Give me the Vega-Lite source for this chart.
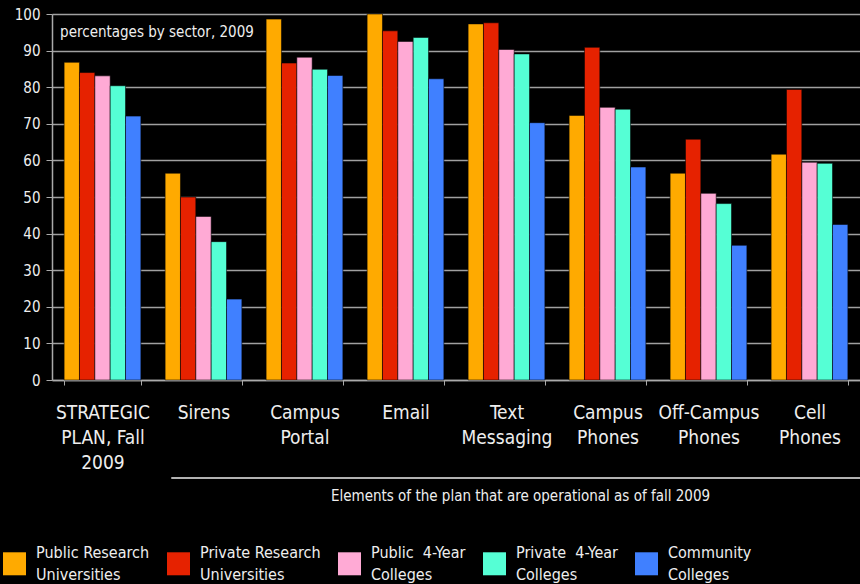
{
  "$schema": "https://vega.github.io/schema/vega-lite/v6.json",
  "width": 808,
  "height": 366,
  "autosize": {"type": "none"},
  "padding": {"left": 52, "top": 14, "right": 0, "bottom": 204},
  "background": "#000000",
  "config": {
    "view": {"stroke": null},
    "font": "DejaVu Sans Condensed, Roboto, sans-serif",
    "axis": {"labelColor": "#eeeeee", "titleColor": "#eeeeee", "titleFontWeight": "normal"},
    "legend": {"labelColor": "#eeeeee"},
    "style": {"guide-label": {"lineHeight": 22}}
  },
  "data": {
    "values": [
      {"element": "STRATEGIC PLAN, Fall 2009", "sector": "Public Research Universities", "pct": 86.8},
      {"element": "STRATEGIC PLAN, Fall 2009", "sector": "Private Research Universities", "pct": 84.0},
      {"element": "STRATEGIC PLAN, Fall 2009", "sector": "Public 4-Year Colleges", "pct": 83.1},
      {"element": "STRATEGIC PLAN, Fall 2009", "sector": "Private 4-Year Colleges", "pct": 80.4},
      {"element": "STRATEGIC PLAN, Fall 2009", "sector": "Community Colleges", "pct": 72.1},
      {"element": "Sirens", "sector": "Public Research Universities", "pct": 56.5},
      {"element": "Sirens", "sector": "Private Research Universities", "pct": 50.0},
      {"element": "Sirens", "sector": "Public 4-Year Colleges", "pct": 44.7},
      {"element": "Sirens", "sector": "Private 4-Year Colleges", "pct": 37.8},
      {"element": "Sirens", "sector": "Community Colleges", "pct": 22.1},
      {"element": "Campus Portal", "sector": "Public Research Universities", "pct": 98.6},
      {"element": "Campus Portal", "sector": "Private Research Universities", "pct": 86.6},
      {"element": "Campus Portal", "sector": "Public 4-Year Colleges", "pct": 88.2},
      {"element": "Campus Portal", "sector": "Private 4-Year Colleges", "pct": 84.9},
      {"element": "Campus Portal", "sector": "Community Colleges", "pct": 83.2},
      {"element": "Email", "sector": "Public Research Universities", "pct": 100.0},
      {"element": "Email", "sector": "Private Research Universities", "pct": 95.4},
      {"element": "Email", "sector": "Public 4-Year Colleges", "pct": 92.5},
      {"element": "Email", "sector": "Private 4-Year Colleges", "pct": 93.6},
      {"element": "Email", "sector": "Community Colleges", "pct": 82.3},
      {"element": "Text Messaging", "sector": "Public Research Universities", "pct": 97.3},
      {"element": "Text Messaging", "sector": "Private Research Universities", "pct": 97.6},
      {"element": "Text Messaging", "sector": "Public 4-Year Colleges", "pct": 90.3},
      {"element": "Text Messaging", "sector": "Private 4-Year Colleges", "pct": 89.1},
      {"element": "Text Messaging", "sector": "Community Colleges", "pct": 70.3},
      {"element": "Campus Phones", "sector": "Public Research Universities", "pct": 72.3},
      {"element": "Campus Phones", "sector": "Private Research Universities", "pct": 90.9},
      {"element": "Campus Phones", "sector": "Public 4-Year Colleges", "pct": 74.5},
      {"element": "Campus Phones", "sector": "Private 4-Year Colleges", "pct": 74.0},
      {"element": "Campus Phones", "sector": "Community Colleges", "pct": 58.2},
      {"element": "Off-Campus Phones", "sector": "Public Research Universities", "pct": 56.5},
      {"element": "Off-Campus Phones", "sector": "Private Research Universities", "pct": 65.8},
      {"element": "Off-Campus Phones", "sector": "Public 4-Year Colleges", "pct": 51.0},
      {"element": "Off-Campus Phones", "sector": "Private 4-Year Colleges", "pct": 48.2},
      {"element": "Off-Campus Phones", "sector": "Community Colleges", "pct": 36.8},
      {"element": "Cell Phones", "sector": "Public Research Universities", "pct": 61.7},
      {"element": "Cell Phones", "sector": "Private Research Universities", "pct": 79.4},
      {"element": "Cell Phones", "sector": "Public 4-Year Colleges", "pct": 59.5},
      {"element": "Cell Phones", "sector": "Private 4-Year Colleges", "pct": 59.2},
      {"element": "Cell Phones", "sector": "Community Colleges", "pct": 42.5}
    ]
  },
  "layer": [
    {
      "mark": {"type": "bar", "stroke": "#000000", "strokeOpacity": 0.55, "strokeWidth": 1},
      "encoding": {
        "x": {
          "field": "element", "type": "nominal", "sort": null,
          "scale": {
            "domain": ["STRATEGIC PLAN, Fall 2009", "Sirens", "Campus Portal", "Email", "Text Messaging", "Campus Phones", "Off-Campus Phones", "Cell Phones"],
            "paddingInner": 0.24, "paddingOuter": 0.12
          },
          "axis": {
            "labelAngle": 0, "labelFontSize": 19, "labelLineHeight": 25, "labelPadding": 18, "labelBaseline": "top",
            "labelExpr": "datum.label == 'STRATEGIC PLAN, Fall 2009' ? ['STRATEGIC', 'PLAN, Fall', '2009'] : split(datum.label, ' ')",
            "tickBand": "extent", "tickColor": "#aaaaaa", "tickSize": 5, "domainColor": "#aaaaaa", "domainWidth": 1.5,
            "labelLimit": 0,
            "title": "Elements of the plan that are operational as of fall 2009",
            "titleFontSize": 15, "titleX": 468, "titleY": 115, "titleBaseline": "middle", "titleAlign": "center"
          }
        },
        "xOffset": {
          "field": "sector", "type": "nominal",
          "sort": ["Public Research Universities", "Private Research Universities", "Public 4-Year Colleges", "Private 4-Year Colleges", "Community Colleges"],
          "scale": {"paddingInner": 0, "paddingOuter": 0}
        },
        "y": {
          "field": "pct", "type": "quantitative",
          "scale": {"domain": [0, 100], "nice": false},
          "axis": {
            "values": [0, 10, 20, 30, 40, 50, 60, 70, 80, 90, 100],
            "title": null, "labelFontSize": 15, "labelPadding": 6, "tickSize": 6,
            "tickColor": "#aaaaaa", "domainColor": "#aaaaaa", "domainWidth": 1.5,
            "gridColor": "#a0a0a0", "gridWidth": 1.5, "labelColor": "#eeeeee"
          }
        },
        "color": {
          "field": "sector", "type": "nominal",
          "scale": {
            "domain": ["Public Research Universities", "Private Research Universities", "Public 4-Year Colleges", "Private 4-Year Colleges", "Community Colleges"],
            "range": ["#ffaa00", "#e62200", "#ffaad5", "#55ffd5", "#4080ff"]
          },
          "legend": {
            "orient": "none", "legendX": -49, "legendY": 527, "direction": "horizontal", "columns": 5,
            "title": null, "symbolType": "M-1,-0.04H1V1.96H-1Z", "symbolSize": 529, "symbolStrokeWidth": 0,
            "labelFontSize": 16, "labelOffset": 10, "labelLimit": 0, "columnPadding": 17,
            "labelExpr": "[replace(substring(datum.label, 0, lastindexof(datum.label, ' ')), ' 4-Year', '\u00a0 4-Year'), substring(datum.label, lastindexof(datum.label, ' ') + 1)]"
          }
        }
      }
    },
    {
      "data": {"values": [{"note": "percentages by sector, 2009", "anchor": "STRATEGIC PLAN, Fall 2009", "level": 95.1}]},
      "mark": {"type": "text", "align": "left", "baseline": "middle", "fontSize": 15, "fontWeight": "normal", "fill": "#eeeeee", "dx": -4},
      "encoding": {
        "x": {"field": "anchor", "type": "nominal", "sort": null, "bandPosition": 0},
        "y": {
          "field": "level", "type": "quantitative",
          "axis": {
            "values": [0, 10, 20, 30, 40, 50, 60, 70, 80, 90, 100],
            "title": null, "labelFontSize": 15, "labelPadding": 6, "tickSize": 6,
            "tickColor": "#aaaaaa", "domainColor": "#aaaaaa", "domainWidth": 1.5,
            "gridColor": "#a0a0a0", "gridWidth": 1.5, "labelColor": "#eeeeee"
          }
        },
        "text": {"field": "note"}
      }
    },
    {
      "data": {"values": [{"from": "Sirens", "to": "Cell Phones", "level": -26.8}]},
      "mark": {"type": "rule", "color": "#eeeeee", "strokeWidth": 1.5},
      "encoding": {
        "x": {"field": "from", "type": "nominal", "sort": null, "bandPosition": 0.08},
        "x2": {"datum": "Cell Phones", "bandPosition": 1.16},
        "y": {
          "field": "level", "type": "quantitative",
          "axis": {
            "values": [0, 10, 20, 30, 40, 50, 60, 70, 80, 90, 100],
            "title": null, "labelFontSize": 15, "labelPadding": 6, "tickSize": 6,
            "tickColor": "#aaaaaa", "domainColor": "#aaaaaa", "domainWidth": 1.5,
            "gridColor": "#a0a0a0", "gridWidth": 1.5, "labelColor": "#eeeeee"
          }
        }
      }
    }
  ]
}
